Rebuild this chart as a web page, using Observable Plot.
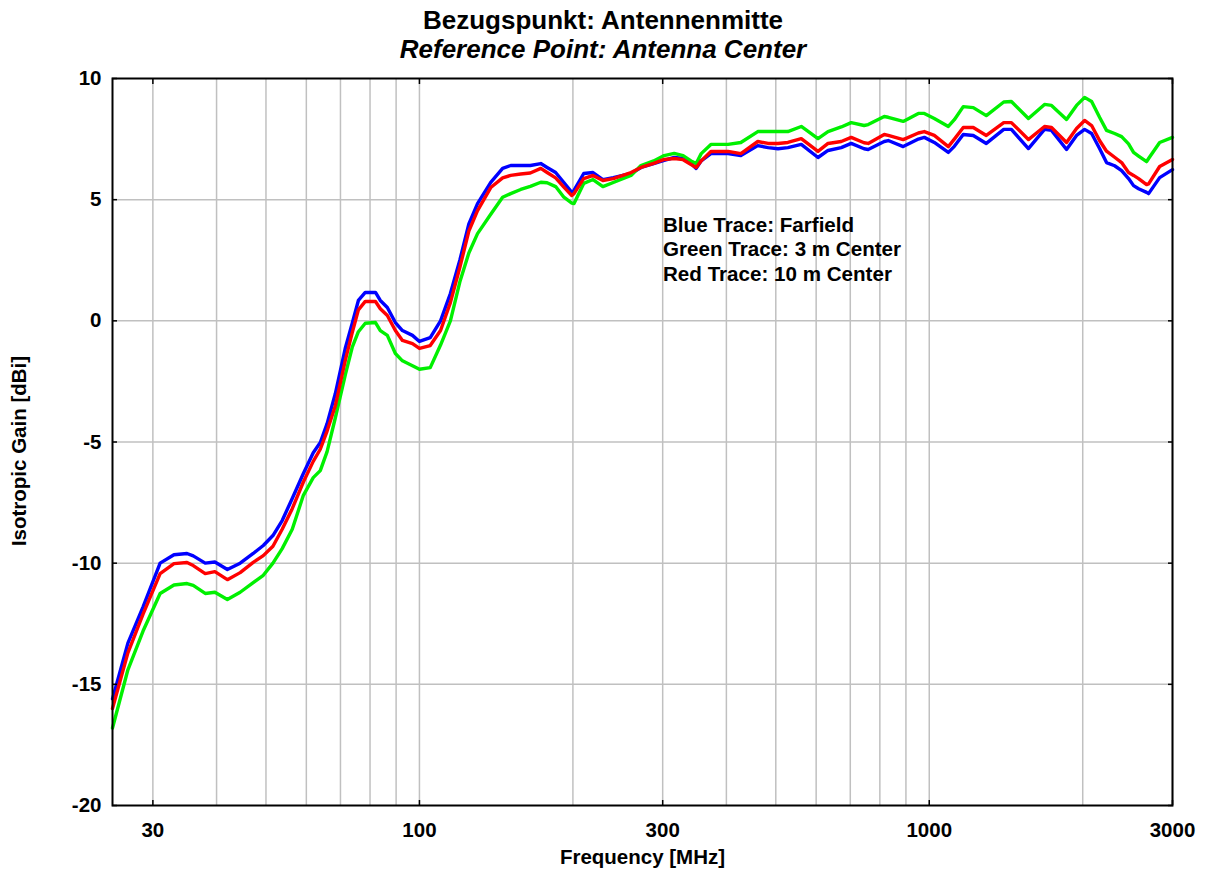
<!DOCTYPE html>
<html>
<head>
<meta charset="utf-8">
<script src="https://cdn.jsdelivr.net/npm/d3@7"></script>
<script src="https://cdn.jsdelivr.net/npm/@observablehq/plot@0.6"></script>
<style>
  html, body { margin: 0; padding: 0; background: #fff; }
  #wrap { position: relative; width: 1206px; height: 873px; font-family: "Liberation Sans", Arial, sans-serif; color: #000; }
  #title { position: absolute; left: 0; top: 6px; width: 1206px; text-align: center; font-weight: bold; font-size: 26px; line-height: 28.5px; }
  #legend { position: absolute; left: 663px; top: 213px; font-weight: bold; font-size: 20.6px; line-height: 24.3px; white-space: nowrap; }
  #chart svg { display: block; }
</style>
</head>
<body>
<div id="wrap">
  <div id="chart"></div>
  <div id="title">Bezugspunkt: Antennenmitte<br><i>Reference Point: Antenna Center</i></div>
  <div id="legend">Blue Trace: Farfield<br>Green Trace: 3 m Center<br>Red Trace: 10 m Center</div>
</div>
<script>
// Frequency samples [MHz]
const freq = [25, 26.8, 28.7, 31, 33, 35, 36, 38, 39.7, 42, 44.5, 47.2, 49.4, 51.6, 53.8, 56.3, 59.2, 61.9, 63.9, 65.9, 68.4, 71.6, 73.8, 75.9, 78.3, 82, 83.8, 86.5, 89.7, 92.6, 96.9, 100, 105, 110, 115, 120, 125, 130, 138, 145.6, 151, 158, 165, 173, 178, 185, 192, 199, 201, 210, 219, 229, 240, 260, 272, 288, 302, 316, 329, 341, 349, 357, 373, 403, 427, 461, 483, 505, 528, 561, 605, 633, 672, 703, 745, 759, 816, 831, 889, 952, 978, 1023, 1090, 1120, 1166, 1220, 1294, 1400, 1449, 1565, 1683, 1737, 1859, 1945, 2017, 2082, 2158, 2227, 2310, 2384, 2460, 2516, 2574, 2669, 2693, 2831, 3000];

// Blue trace: Farfield [dBi]
const farfield = [-15.6, -13.3, -11.8, -10.0, -9.65, -9.6, -9.7, -10.0, -9.95, -10.26, -10.0, -9.6, -9.27, -8.86, -8.24, -7.33, -6.3, -5.44, -5.02, -4.24, -3.0, -1.1, -0.11, 0.84, 1.17, 1.17, 0.84, 0.55, -0.07, -0.4, -0.6, -0.85, -0.69, 0.0, 1.13, 2.5, 4.0, 4.84, 5.71, 6.29, 6.41, 6.41, 6.41, 6.49, 6.33, 6.12, 5.71, 5.3, 5.38, 6.08, 6.12, 5.83, 5.91, 6.08, 6.33, 6.49, 6.62, 6.74, 6.7, 6.49, 6.29, 6.6, 6.9, 6.9, 6.82, 7.23, 7.15, 7.1, 7.15, 7.28, 6.74, 7.03, 7.15, 7.32, 7.1, 7.07, 7.4, 7.44, 7.19, 7.5, 7.57, 7.36, 6.95, 7.2, 7.69, 7.65, 7.32, 7.9, 7.9, 7.11, 7.9, 7.86, 7.07, 7.65, 7.9, 7.73, 7.11, 6.53, 6.4, 6.2, 5.87, 5.58, 5.45, 5.3, 5.25, 5.91, 6.24];

// Green trace: 3 m Center [dBi]
const center3m = [-16.8, -14.4, -12.8, -11.25, -10.9, -10.84, -10.92, -11.25, -11.2, -11.5, -11.2, -10.8, -10.5, -10.0, -9.4, -8.6, -7.2, -6.47, -6.18, -5.4, -4.0, -2.2, -1.1, -0.45, -0.1, -0.07, -0.4, -0.6, -1.35, -1.65, -1.85, -2.0, -1.93, -1.0, 0.0, 1.6, 2.8, 3.6, 4.4, 5.1, 5.25, 5.42, 5.55, 5.72, 5.7, 5.54, 5.1, 4.86, 4.84, 5.67, 5.83, 5.54, 5.71, 6.0, 6.41, 6.6, 6.82, 6.91, 6.82, 6.6, 6.49, 6.9, 7.28, 7.28, 7.36, 7.81, 7.81, 7.81, 7.81, 8.02, 7.52, 7.81, 8.0, 8.18, 8.06, 8.1, 8.43, 8.4, 8.23, 8.56, 8.56, 8.35, 8.02, 8.3, 8.84, 8.8, 8.47, 9.03, 9.05, 8.35, 8.93, 8.89, 8.31, 8.89, 9.22, 9.05, 8.4, 7.86, 7.73, 7.6, 7.3, 6.95, 6.8, 6.57, 6.7, 7.36, 7.57];

// Red trace: 10 m Center [dBi]
const center10m = [-16.0, -13.7, -12.1, -10.43, -10.02, -9.97, -10.1, -10.43, -10.35, -10.68, -10.39, -9.97, -9.69, -9.3, -8.6, -7.75, -6.65, -5.8, -5.3, -4.55, -3.5, -1.6, -0.5, 0.45, 0.8, 0.8, 0.5, 0.22, -0.4, -0.81, -0.94, -1.14, -1.02, -0.4, 0.75, 2.2, 3.7, 4.55, 5.5, 5.9, 6.0, 6.06, 6.1, 6.29, 6.12, 5.9, 5.52, 5.17, 5.25, 5.87, 6.0, 5.79, 5.87, 6.12, 6.33, 6.5, 6.66, 6.7, 6.65, 6.45, 6.33, 6.6, 6.99, 6.99, 6.9, 7.4, 7.32, 7.32, 7.36, 7.52, 6.99, 7.32, 7.4, 7.57, 7.35, 7.32, 7.69, 7.65, 7.48, 7.75, 7.81, 7.65, 7.19, 7.5, 7.98, 7.98, 7.65, 8.18, 8.18, 7.48, 8.02, 7.98, 7.36, 7.94, 8.27, 8.06, 7.44, 7.0, 6.75, 6.53, 6.12, 6.0, 5.87, 5.62, 5.65, 6.37, 6.66];

// Axis ticks / grid
const xTickValues = [30, 100, 300, 1000, 3000];
const xGridValues = [30, 40, 50, 60, 70, 80, 90, 100, 200, 300, 400, 500, 600, 700, 800, 900, 1000, 2000, 3000];
const yTickValues = [-20, -15, -10, -5, 0, 5, 10];
const yGridValues = [-15, -10, -5, 0, 5];
const xLabel = "Frequency [MHz]";
const yLabel = "Isotropic Gain [dBi]";

const toRows = (vals) => freq.map((f, i) => ({f, g: vals[i]}));
const fmt = d => String(d);
const font = {fontSize: 20.5, fontWeight: "bold"};
const blank = () => "";

const chart = Plot.plot({
  width: 1206,
  height: 873,
  marginLeft: 112,
  marginRight: 34,
  marginTop: 78,
  marginBottom: 68,
  style: {fontFamily: "'Liberation Sans', Arial, sans-serif", fontWeight: "bold", fontSize: "20.5px", color: "#000", background: "#fff", overflow: "visible"},
  x: {type: "log", domain: [25, 3000]},
  y: {domain: [-20, 10]},
  marks: [
    Plot.gridX(xGridValues, {stroke: "#c0c0c0", strokeOpacity: 1, strokeWidth: 1.5}),
    Plot.gridY(yGridValues, {stroke: "#c0c0c0", strokeOpacity: 1, strokeWidth: 1.5}),
    Plot.line(toRows(farfield), {x: "f", y: "g", stroke: "#0000ff", strokeWidth: 3.4}),
    Plot.line(toRows(center3m), {x: "f", y: "g", stroke: "#00f000", strokeWidth: 3.4}),
    Plot.line(toRows(center10m), {x: "f", y: "g", stroke: "#ff0000", strokeWidth: 3.4}),
    Plot.frame({stroke: "#000", strokeWidth: 2}),
    Plot.axisX(xTickValues, {anchor: "bottom", tickSize: -5, tickFormat: blank, label: null, strokeWidth: 1.5}),
    Plot.axisX(xTickValues, {anchor: "top", tickSize: -5, tickFormat: blank, label: null, strokeWidth: 1.5}),
    Plot.axisY(yTickValues, {anchor: "left", tickSize: -5, tickFormat: blank, label: null, strokeWidth: 1.5}),
    Plot.axisY(yTickValues, {anchor: "right", tickSize: -5, tickFormat: blank, label: null, strokeWidth: 1.5}),
    Plot.axisX(xTickValues, {anchor: "bottom", tickSize: 0, tickPadding: 17, tickFormat: fmt, label: null, ...font}),
    Plot.axisY(yTickValues, {anchor: "left", tickSize: 0, tickPadding: 11, tickFormat: fmt, label: null, ...font}),
    Plot.text([xLabel], {frameAnchor: "bottom", textAnchor: "middle", dy: 52, lineAnchor: "middle", text: d => d, ...font, fill: "#000"}),
    Plot.text([yLabel], {frameAnchor: "left", textAnchor: "middle", dx: -93, dy: 9, rotate: -90, lineAnchor: "middle", text: d => d, ...font, fill: "#000"})
  ]
});
document.getElementById("chart").appendChild(chart);
</script>
</body>
</html>
